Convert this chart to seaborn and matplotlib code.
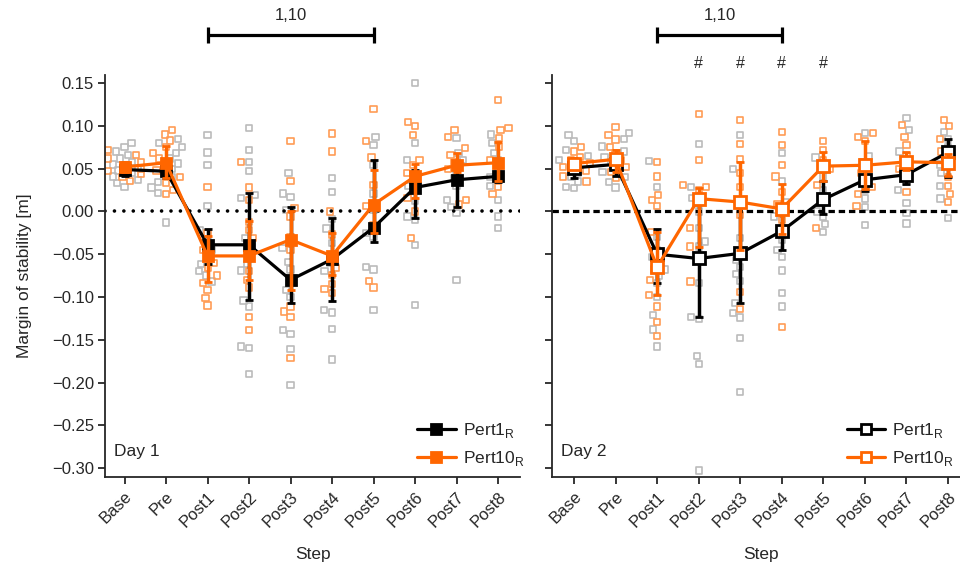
import numpy as np
import pandas as pd
import matplotlib
matplotlib.use("Agg")
import matplotlib.pyplot as plt
from matplotlib.lines import Line2D
import matplotlib.transforms as mtransforms
import seaborn as sns
import warnings
warnings.filterwarnings("ignore")

# ---------------- data ----------------
steps = ["Base", "Pre", "Post1", "Post2", "Post3", "Post4", "Post5", "Post6", "Post7", "Post8"]
conds = ["Pert1", "Pert10"]

# individual subject values, one list per step
day1_pert1_pts = [
    [0.080, 0.075, 0.070, 0.066, 0.062, 0.058, 0.055, 0.051, 0.048, 0.045, 0.041, 0.037, 0.033, 0.029],
    [0.085, 0.080, 0.075, 0.068, 0.062, 0.056, 0.050, 0.045, 0.040, 0.034, 0.028, 0.022, -0.013],
    [0.089, 0.069, 0.054, 0.006, -0.022, -0.035, -0.045, -0.053, -0.061, -0.070, -0.075, -0.082],
    [0.098, 0.072, 0.058, 0.047, 0.019, 0.016, -0.031, -0.039, -0.061, -0.069, -0.104, -0.111, -0.158, -0.160, -0.190],
    [0.045, 0.021, 0.017, 0.002, -0.043, -0.059, -0.068, -0.092, -0.100, -0.139, -0.143, -0.161, -0.203],
    [0.039, 0.023, -0.009, -0.020, -0.037, -0.051, -0.060, -0.070, -0.115, -0.118, -0.137, -0.173],
    [0.087, 0.078, 0.054, 0.021, 0.002, -0.025, -0.030, -0.065, -0.068, -0.115],
    [0.150, 0.080, 0.060, 0.045, 0.030, 0.012, -0.006, -0.010, -0.039, -0.109],
    [0.086, 0.068, 0.060, 0.049, 0.039, 0.030, 0.013, 0.005, -0.002, -0.080],
    [0.090, 0.080, 0.068, 0.060, 0.050, 0.040, 0.030, 0.013, -0.006, -0.019],
]
day1_pert10_pts = [
    [0.072, 0.066, 0.062, 0.058, 0.054, 0.050, 0.047, 0.044, 0.040, 0.036],
    [0.095, 0.090, 0.083, 0.075, 0.068, 0.062, 0.055, 0.048, 0.040, 0.033, 0.025, 0.020],
    [0.029, -0.025, -0.045, -0.060, -0.066, -0.075, -0.084, -0.092, -0.101, -0.110],
    [0.058, 0.028, 0.013, -0.012, -0.022, -0.031, -0.051, -0.070, -0.080, -0.089, -0.123, -0.139],
    [0.082, 0.036, 0.004, -0.006, -0.030, -0.045, -0.111, -0.117, -0.123, -0.171],
    [0.091, 0.070, 0.000, -0.027, -0.066, -0.074, -0.085, -0.091, -0.095],
    [0.120, 0.082, 0.063, 0.031, 0.006, -0.016, -0.081, -0.089],
    [0.105, 0.100, 0.089, 0.060, 0.054, 0.045, 0.025, 0.016, 0.000, -0.031],
    [0.095, 0.087, 0.074, 0.066, 0.058, 0.050, 0.013, 0.008],
    [0.130, 0.098, 0.095, 0.086, 0.075, 0.060, 0.039, 0.029, 0.020],
]
day2_pert1_pts = [
    [0.089, 0.082, 0.072, 0.065, 0.060, 0.055, 0.050, 0.045, 0.040, 0.035, 0.029, 0.027],
    [0.092, 0.085, 0.076, 0.070, 0.064, 0.058, 0.052, 0.046, 0.040, 0.034, 0.028],
    [0.059, 0.029, -0.030, -0.045, -0.053, -0.060, -0.068, -0.075, -0.084, -0.100, -0.121, -0.138, -0.158],
    [0.079, 0.029, 0.016, 0.000, -0.019, -0.035, -0.041, -0.084, -0.123, -0.126, -0.169, -0.178, -0.303],
    [0.089, 0.050, 0.011, -0.031, -0.057, -0.065, -0.073, -0.081, -0.107, -0.119, -0.124, -0.148, -0.211],
    [0.068, 0.035, 0.011, 0.000, -0.006, -0.020, -0.033, -0.045, -0.053, -0.069, -0.095, -0.111],
    [0.063, 0.050, 0.041, 0.025, 0.010, 0.000, -0.006, -0.015, -0.024],
    [0.092, 0.065, 0.050, 0.037, 0.025, 0.015, 0.005, -0.016],
    [0.109, 0.095, 0.070, 0.055, 0.045, 0.035, 0.025, 0.010, -0.002, -0.014],
    [0.093, 0.085, 0.075, 0.065, 0.055, 0.045, 0.030, 0.015, -0.008],
]
day2_pert10_pts = [
    [0.075, 0.070, 0.064, 0.060, 0.056, 0.052, 0.048, 0.041, 0.035],
    [0.099, 0.089, 0.084, 0.075, 0.068, 0.060, 0.052, 0.046, 0.039],
    [0.058, 0.041, 0.019, 0.013, 0.006, -0.024, -0.068, -0.080, -0.098, -0.111, -0.129, -0.146],
    [0.114, 0.060, 0.031, 0.029, 0.025, 0.010, -0.019, -0.041, -0.082],
    [0.107, 0.079, 0.061, 0.045, 0.029, -0.004, -0.094, -0.114],
    [0.093, 0.078, 0.054, 0.041, 0.023, 0.008, -0.010, -0.135],
    [0.082, 0.072, 0.060, 0.050, 0.031, -0.019],
    [0.092, 0.087, 0.082, 0.058, 0.045, 0.029, 0.020, 0.006],
    [0.101, 0.087, 0.078, 0.065, 0.050, 0.023],
    [0.107, 0.100, 0.085, 0.070, 0.055, 0.040, 0.030, 0.020, 0.011],
]

# group means with lower / upper error-bar ends
day1_pert1_mean = [0.049, 0.047, -0.039, -0.039, -0.080, -0.056, -0.019, 0.028, 0.037, 0.041]
day1_pert1_lo   = [0.042, 0.039, -0.062, -0.104, -0.107, -0.105, -0.036, -0.008, 0.005, 0.034]
day1_pert1_hi   = [0.056, 0.055, -0.020, 0.022, 0.005, -0.008, 0.060, 0.049, 0.057, 0.046]

day1_pert10_mean = [0.052, 0.057, -0.052, -0.052, -0.033, -0.052, 0.008, 0.041, 0.054, 0.057]
day1_pert10_lo   = [0.046, 0.039, -0.083, -0.080, -0.092, -0.074, -0.025, 0.016, 0.046, 0.036]
day1_pert10_hi   = [0.058, 0.077, -0.029, -0.011, 0.000, -0.025, 0.049, 0.055, 0.068, 0.081]

day2_pert1_mean = [0.051, 0.055, -0.050, -0.055, -0.049, -0.023, 0.014, 0.037, 0.043, 0.069]
day2_pert1_lo   = [0.039, 0.041, -0.084, -0.123, -0.107, -0.045, -0.003, 0.024, 0.032, 0.040]
day2_pert1_hi   = [0.060, 0.062, -0.021, 0.010, 0.009, -0.001, 0.036, 0.050, 0.055, 0.085]

day2_pert10_mean = [0.056, 0.061, -0.065, 0.015, 0.011, 0.003, 0.053, 0.054, 0.058, 0.057]
day2_pert10_lo   = [0.050, 0.046, -0.098, -0.041, -0.045, -0.026, 0.036, 0.026, 0.049, 0.042]
day2_pert10_hi   = [0.062, 0.072, -0.024, 0.028, 0.058, 0.032, 0.070, 0.082, 0.069, 0.067]

yticks = [0.15, 0.10, 0.05, 0.00, -0.05, -0.10, -0.15, -0.20, -0.25, -0.30]
bracket_label = "1,10"
day1_bracket = ("Post1", "Post5")
day2_bracket = ("Post1", "Post4")
day2_hash_steps = ["Post2", "Post3", "Post4", "Post5"]

# ---------------- style ----------------
sns.set_theme(style="ticks")
plt.rcParams["font.family"] = ["Liberation Sans", "DejaVu Sans"]
plt.rcParams["axes.linewidth"] = 1.3

BLACK = "#000000"
ORANGE = "#FF6600"
GRAY_PT = "#BBBBBB"
ORANGE_PT = "#FF9C55"


def long_df(p1, p10):
    rows = []
    for s, vals in zip(steps, p1):
        rows += [(s, v, "Pert1") for v in vals]
    for s, vals in zip(steps, p10):
        rows += [(s, v, "Pert10") for v in vals]
    return pd.DataFrame(rows, columns=["step", "value", "cond"])


fig = plt.figure(figsize=(9.6, 5.62), dpi=100)
ax_bottom = 1 - 476.6 / 562
ax_h = 402 / 562
ax1 = fig.add_axes([105 / 960, ax_bottom, 415 / 960, ax_h])
ax2 = fig.add_axes([552 / 960, ax_bottom, 418 / 960, ax_h])

panels = [
    (ax1, day1_pert1_pts, day1_pert10_pts,
     (day1_pert1_mean, day1_pert1_lo, day1_pert1_hi),
     (day1_pert10_mean, day1_pert10_lo, day1_pert10_hi), True, "Day 1"),
    (ax2, day2_pert1_pts, day2_pert10_pts,
     (day2_pert1_mean, day2_pert1_lo, day2_pert1_hi),
     (day2_pert10_mean, day2_pert10_lo, day2_pert10_hi), False, "Day 2"),
]

xpos = np.arange(len(steps))

for ax, p1, p10, s1, s10, filled, daylabel in panels:
    df = long_df(p1, p10)
    sns.swarmplot(data=df, x="step", y="value", hue="cond", order=steps,
                  hue_order=conds, palette={"Pert1": GRAY_PT, "Pert10": ORANGE_PT},
                  marker="s", size=4.5, dodge=False, legend=False, ax=ax,
                  zorder=1, warn_thresh=1.0)
    for coll in ax.collections:
        fc = coll.get_facecolors()
        coll.set_edgecolors(fc)
        coll.set_facecolors("none")
        coll.set_linewidths(1.2)

    # zero line
    if filled:
        ax.axhline(0, color="black", lw=2.6, ls=(0, (0.01, 2.6)),
                   dash_capstyle="round", zorder=2)
    else:
        ax.axhline(0, color="black", lw=2.3, ls=(0, (2.0, 1.2)), zorder=2)

    for (m, lo, hi), col, z in [(s1, BLACK, 4), (s10, ORANGE, 5)]:
        m = np.array(m); lo = np.array(lo); hi = np.array(hi)
        yerr = np.vstack([m - lo, hi - m])
        ax.errorbar(xpos, m, yerr=yerr, color=col, ecolor=col, lw=2.3,
                    elinewidth=2.5, capsize=3.2, capthick=2.8,
                    marker="s", markersize=7.3 if filled else 8,
                    markerfacecolor=col if filled else "white",
                    markeredgecolor=col, markeredgewidth=2.0, zorder=z)

    ax.set_xlim(-0.47 if filled else -0.53, 9.53)
    ax.set_ylim(-0.31, 0.16)
    ax.set_yticks(yticks)
    ax.set_xticks(xpos)
    ax.set_xticklabels(steps, rotation=45, ha="right", rotation_mode="anchor",
                       fontsize=12)
    ax.tick_params(axis="both", direction="out", length=5, width=1.3,
                   labelsize=12, pad=3)
    ax.tick_params(axis="x", pad=4)
    sns.despine(ax=ax)
    ax.set_xlabel("Step", fontsize=12.5, labelpad=12)
    ax.text(0.022, 0.045, daylabel, transform=ax.transAxes, fontsize=12.5,
            ha="left", va="bottom")

    handles = [
        Line2D([], [], color=BLACK, lw=2.3, marker="s", markersize=7,
               markerfacecolor=BLACK if filled else "white",
               markeredgecolor=BLACK, markeredgewidth=2.0),
        Line2D([], [], color=ORANGE, lw=2.3, marker="s", markersize=7,
               markerfacecolor=ORANGE if filled else "white",
               markeredgecolor=ORANGE, markeredgewidth=2.0),
    ]
    labels = [r"Pert1$_{\mathregular{R}}$", r"Pert10$_{\mathregular{R}}$"]
    ax.legend(handles, labels, loc="lower right",
              bbox_to_anchor=(1.035 if filled else 0.985, -0.005),
              frameon=False, fontsize=12.5, handlelength=2.2,
              handletextpad=0.4, labelspacing=0.55, borderaxespad=0.2)

ax1.set_yticklabels([f"{t:.2f}".replace("-", "\u2212") for t in yticks])
ax1.set_ylabel("Margin of stability [m]", fontsize=12.5, labelpad=14)
ax2.set_yticklabels([])
ax2.set_ylabel("")

# significance brackets
for ax, (a, b) in [(ax1, day1_bracket), (ax2, day2_bracket)]:
    tr = mtransforms.blended_transform_factory(ax.transData, ax.transAxes)
    xa, xb = steps.index(a), steps.index(b)
    yb = 1.0985
    ax.plot([xa, xb], [yb, yb], color="black", lw=2.3, transform=tr,
            clip_on=False, solid_capstyle="butt")
    for xx in (xa, xb):
        ax.plot([xx, xx], [yb - 0.019, yb + 0.019], color="black", lw=2.3,
                transform=tr, clip_on=False, solid_capstyle="butt")
    ax.text((xa + xb) / 2, 1.128, bracket_label, transform=tr, ha="center",
            va="bottom", fontsize=12)

tr2 = mtransforms.blended_transform_factory(ax2.transData, ax2.transAxes)
for s in day2_hash_steps:
    ax2.text(steps.index(s), 1.027, "#", transform=tr2, ha="center",
             va="center", fontsize=11.5)

fig.savefig("out.png", dpi=100)
